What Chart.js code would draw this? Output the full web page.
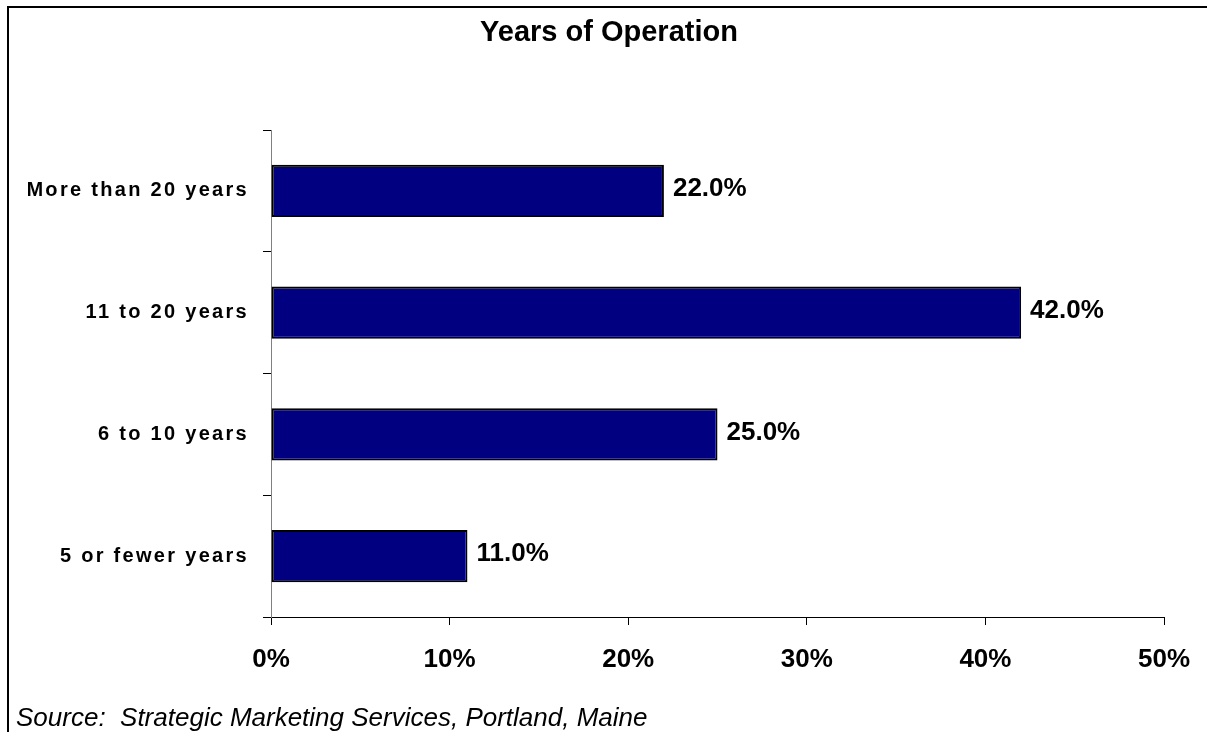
<!DOCTYPE html>
<html>
<head>
<meta charset="utf-8">
<title>Years of Operation</title>
<script src="https://cdn.jsdelivr.net/npm/chart.js@4/dist/chart.umd.min.js"></script>
<style>
  html, body { margin: 0; padding: 0; background: #fff; overflow: hidden; }
  body { width: 1207px; height: 732px; position: relative; }
  #frame {
    position: absolute; left: 7px; top: 6px; right: -10px; bottom: -10px;
    border-left: 2px solid #000; border-top: 2px solid #000;
  }
  #chart-box { position: absolute; left: 0; top: 0; width: 1190px; height: 732px; }
  #source {
    position: absolute; left: 16px; top: 702px; line-height: 26px;
    font: italic 26px "Liberation Sans", Arial, sans-serif; color: #000; white-space: nowrap;
  }
</style>
</head>
<body>
<div id="frame"></div>
<div id="chart-box"><canvas id="barChart"></canvas></div>
<div id="source">Source:&nbsp; Strategic Marketing Services, Portland, Maine</div>

<script>
// Survey categories, top to bottom, and share of respondents (%)
const categories = ['More than 20 years', '11 to 20 years', '6 to 10 years', '5 or fewer years'];
const shares = [22.0, 42.0, 25.0, 11.0];
const xTicks = [0, 10, 20, 30, 40, 50];

const FONT = '"Liberation Sans", Arial, sans-serif';

// Category labels on this chart are drawn with wide letter spacing
const spacedYLabels = {
    id: 'spacedYLabels',
    afterLayout(chart) {
        const y = chart.scales.y;
        if (!y || y._spaced) return;
        const drawLabels = y.drawLabels.bind(y);
        y.drawLabels = function (area) {
            const ctx = chart.ctx;
            ctx.save();
            ctx.letterSpacing = '2.3px';
            drawLabels(area);
            ctx.restore();
        };
        y._spaced = true;
    }
};

// Value labels to the right of each bar
const valueLabels = {
    id: 'valueLabels',
    afterDatasetsDraw(chart) {
        const ctx = chart.ctx;
        const meta = chart.getDatasetMeta(0);
        ctx.save();
        ctx.font = 'bold 26px ' + FONT;
        ctx.fillStyle = '#000';
        ctx.textAlign = 'left';
        ctx.textBaseline = 'middle';
        meta.data.forEach((bar, i) => {
            ctx.fillText(shares[i].toFixed(1) + '%', bar.x + 9, bar.y - 2);
        });
        ctx.restore();
    }
};

const ctx = document.getElementById('barChart').getContext('2d');

new Chart(ctx, {
    type: 'bar',
    data: {
        labels: categories,
        datasets: [{
            data: shares,
            backgroundColor: '#000080',
            borderColor: '#000000',
            borderWidth: 2,
            borderSkipped: false,
            categoryPercentage: 1.0,
            barPercentage: 0.43
        }]
    },
    options: {
        indexAxis: 'y',
        responsive: true,
        maintainAspectRatio: false,
        animation: false,
        layout: { padding: { left: 28, right: 0, top: 0, bottom: 0 } },
        plugins: {
            legend: { display: false },
            tooltip: { enabled: false },
            title: {
                display: true,
                text: 'Years of Operation',
                color: '#000',
                font: { family: FONT, size: 29, weight: 'bold' },
                padding: { top: 16, bottom: 79.2 }
            }
        },
        scales: {
            x: {
                min: 0,
                max: 50,
                afterBuildTicks(scale) {
                    scale.ticks = xTicks.map(v => ({ value: v }));
                },
                afterFit(scale) {
                    scale.height = 115;
                    scale.paddingRight = 26;
                },
                grid: {
                    drawOnChartArea: false,
                    drawTicks: true,
                    tickLength: 8,
                    color: '#000'
                },
                border: { display: true, color: '#000', width: 1 },
                ticks: {
                    padding: 19,
                    color: '#000',
                    font: { family: FONT, size: 26, weight: 'bold' },
                    callback: v => v + '%'
                }
            },
            y: {
                afterFit(scale) {
                    scale.width = 243;
                },
                grid: {
                    offset: true,
                    drawOnChartArea: false,
                    drawTicks: true,
                    tickLength: 8,
                    color: '#000'
                },
                border: { display: true, color: '#808080', width: 1 },
                ticks: {
                    padding: 14,
                    color: '#000',
                    font: { family: FONT, size: 20, weight: 'bold' }
                }
            }
        }
    },
    plugins: [spacedYLabels, valueLabels]
});
</script>
</body>
</html>
